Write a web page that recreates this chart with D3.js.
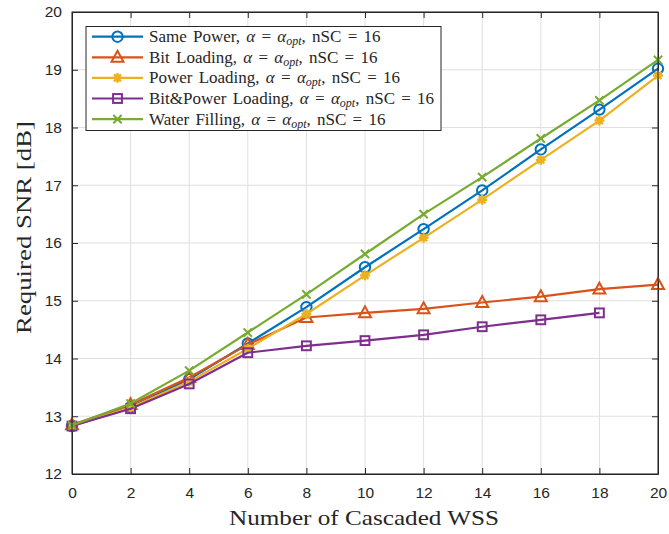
<!DOCTYPE html>
<html>
<head>
<meta charset="utf-8">
<script src="https://cdn.jsdelivr.net/npm/d3@7"></script>
<style>
  html, body { margin: 0; padding: 0; background: #fff; }
  svg { display: block; }
</style>
</head>
<body>
<div id="chart"></div>
<script>
// Number of cascaded WSS on the x axis
const wss = [0, 2, 4, 6, 8, 10, 12, 14, 16, 18, 20];

// Required SNR [dB] for each allocation scheme
const samePower     = [12.83, 13.16, 13.64, 14.26, 14.89, 15.58, 16.24, 16.91, 17.62, 18.31, 19.02];
const bitLoading    = [12.85, 13.20, 13.67, 14.24, 14.71, 14.79, 14.86, 14.97, 15.07, 15.20, 15.28];
const powerLoading  = [12.83, 13.15, 13.60, 14.17, 14.77, 15.44, 16.09, 16.75, 17.44, 18.12, 18.90];
const bitPowerLoad  = [12.83, 13.13, 13.56, 14.10, 14.22, 14.31, 14.41, 14.55, 14.67, 14.79, null];
const waterFilling  = [12.84, 13.22, 13.79, 14.45, 15.11, 15.81, 16.50, 17.14, 17.81, 18.47, 19.17];

const seriesNames = ["Same Power", "Bit Loading", "Power Loading", "Bit&Power Loading", "Water Filling"];
const seriesValues = [samePower, bitLoading, powerLoading, bitPowerLoad, waterFilling];
const seriesColors = ["#0072BD", "#D95319", "#EDB120", "#7E2F8E", "#77AC30"];
const seriesMarkers = ["circle", "triangle", "asterisk", "square", "cross"];

const xTicks = [0, 2, 4, 6, 8, 10, 12, 14, 16, 18, 20];
const yTicks = [12, 13, 14, 15, 16, 17, 18, 19, 20];

const W = 669, H = 534;
const plot = { left: 72, right: 658, top: 12, bottom: 474 };

const svg = d3.select("#chart").append("svg")
  .attr("width", W).attr("height", H);

const x = d3.scaleLinear().domain([0, 20]).range([plot.left, plot.right]);
const y = d3.scaleLinear().domain([12, 20]).range([plot.bottom, plot.top]);

const axisColor = "#262626";
const tickFont = "'Liberation Sans', Arial, sans-serif";
const serifFont = "'Liberation Serif', 'Times New Roman', serif";

// background of the axes
svg.append("rect")
  .attr("x", plot.left).attr("y", plot.top)
  .attr("width", plot.right - plot.left).attr("height", plot.bottom - plot.top)
  .attr("fill", "#fff");

// grid
const grid = svg.append("g").attr("stroke", "#dfdfdf").attr("stroke-width", 1);
xTicks.forEach(t => grid.append("line")
  .attr("x1", x(t)).attr("x2", x(t)).attr("y1", plot.top).attr("y2", plot.bottom));
yTicks.forEach(t => grid.append("line")
  .attr("y1", y(t)).attr("y2", y(t)).attr("x1", plot.left).attr("x2", plot.right));

// axes with inward ticks on all four sides
const tickLen = 6;
const axB = svg.append("g").attr("transform", `translate(0,${plot.bottom})`)
  .call(d3.axisBottom(x).tickValues(xTicks).tickSizeInner(-tickLen).tickSizeOuter(0).tickPadding(13));
const axT = svg.append("g").attr("transform", `translate(0,${plot.top})`)
  .call(d3.axisTop(x).tickValues(xTicks).tickSizeInner(-tickLen).tickSizeOuter(0).tickFormat(""));
const axL = svg.append("g").attr("transform", `translate(${plot.left},0)`)
  .call(d3.axisLeft(y).tickValues(yTicks).tickSizeInner(-tickLen).tickSizeOuter(0).tickPadding(10));
const axR = svg.append("g").attr("transform", `translate(${plot.right},0)`)
  .call(d3.axisRight(y).tickValues(yTicks).tickSizeInner(-tickLen).tickSizeOuter(0).tickFormat(""));

[axB, axT, axL, axR].forEach(a => {
  a.select(".domain").attr("stroke", axisColor).attr("stroke-width", 1);
  a.selectAll(".tick line").attr("stroke", axisColor);
  a.selectAll(".tick text").attr("fill", axisColor)
    .style("font-family", tickFont).style("font-size", "15.5px");
});

// axis titles
svg.append("text")
  .attr("x", 229).attr("y", 525)
  .attr("textLength", 270).attr("lengthAdjust", "spacingAndGlyphs")
  .style("font-family", serifFont).style("font-size", "22px").attr("fill", axisColor)
  .text("Number of Cascaded WSS");
svg.append("text")
  .attr("transform", "translate(31,334) rotate(-90)")
  .attr("textLength", 213).attr("lengthAdjust", "spacingAndGlyphs")
  .style("font-family", serifFont).style("font-size", "22px").attr("fill", axisColor)
  .text("Required SNR [dB]");

// marker drawing
function drawMarker(g, type, color) {
  const s = 5.2;
  g.attr("fill", "none").attr("stroke", color).attr("stroke-width", 2);
  if (type === "circle") {
    g.append("circle").attr("r", s);
  } else if (type === "triangle") {
    g.append("path").attr("d", `M0,${-s * 1.25}L${s * 1.15},${s * 0.85}L${-s * 1.15},${s * 0.85}Z`);
  } else if (type === "square") {
    g.append("rect").attr("x", -s * 0.85).attr("y", -s * 0.85).attr("width", s * 1.7).attr("height", s * 1.7);
  } else if (type === "cross") {
    const c = s * 0.8;
    g.append("path").attr("d", `M${-c},${-c}L${c},${c}M${-c},${c}L${c},${-c}`);
  } else if (type === "asterisk") {
    const c = s * 0.95, d = c * 0.7;
    g.append("path").attr("stroke-width", 2.4)
      .attr("d", `M0,${-c}L0,${c}M${-c},0L${c},0M${-d},${-d}L${d},${d}M${-d},${d}L${d},${-d}`);
  }
}

// series lines and markers
const line = d3.line()
  .defined(d => d[1] != null)
  .x(d => x(d[0])).y(d => y(d[1]));

seriesValues.forEach((vals, i) => {
  const pts = wss.map((w, j) => [w, vals[j]]);
  svg.append("path")
    .datum(pts)
    .attr("d", line)
    .attr("fill", "none")
    .attr("stroke", seriesColors[i])
    .attr("stroke-width", 2.2)
    .attr("stroke-linejoin", "round");
  pts.filter(p => p[1] != null).forEach(p => {
    const g = svg.append("g").attr("transform", `translate(${x(p[0])},${y(p[1])})`);
    drawMarker(g, seriesMarkers[i], seriesColors[i]);
  });
});

// axes box drawn on top
svg.append("rect")
  .attr("x", plot.left).attr("y", plot.top)
  .attr("width", plot.right - plot.left).attr("height", plot.bottom - plot.top)
  .attr("fill", "none").attr("stroke", axisColor).attr("stroke-width", 1);

// legend
const leg = { x: 86, y: 26.5, w: 355, h: 104 };
const legend = svg.append("g");
legend.append("rect")
  .attr("x", leg.x).attr("y", leg.y).attr("width", leg.w).attr("height", leg.h)
  .attr("fill", "#fff").attr("stroke", axisColor).attr("stroke-width", 1);

seriesNames.forEach((name, i) => {
  const cy = leg.y + 10.2 + i * 20.6;
  legend.append("line")
    .attr("x1", leg.x + 6).attr("x2", leg.x + 57).attr("y1", cy).attr("y2", cy)
    .attr("stroke", seriesColors[i]).attr("stroke-width", 2.2);
  const g = legend.append("g").attr("transform", `translate(${leg.x + 31.5},${cy})`);
  drawMarker(g, seriesMarkers[i], seriesColors[i]);

  const t = legend.append("text")
    .attr("x", leg.x + 63).attr("y", cy + 5.5)
    .style("font-family", serifFont).style("font-size", "17px")
    .style("word-spacing", "2px").attr("fill", axisColor);
  t.append("tspan").text(name + ", ");
  t.append("tspan").style("font-style", "italic").text("α");
  t.append("tspan").text(" = ");
  t.append("tspan").style("font-style", "italic").text("α");
  t.append("tspan").style("font-style", "italic").style("font-size", "12px").attr("dy", 3).text("opt");
  t.append("tspan").attr("dy", -3).text(", nSC = 16");
});
</script>
</body>
</html>
